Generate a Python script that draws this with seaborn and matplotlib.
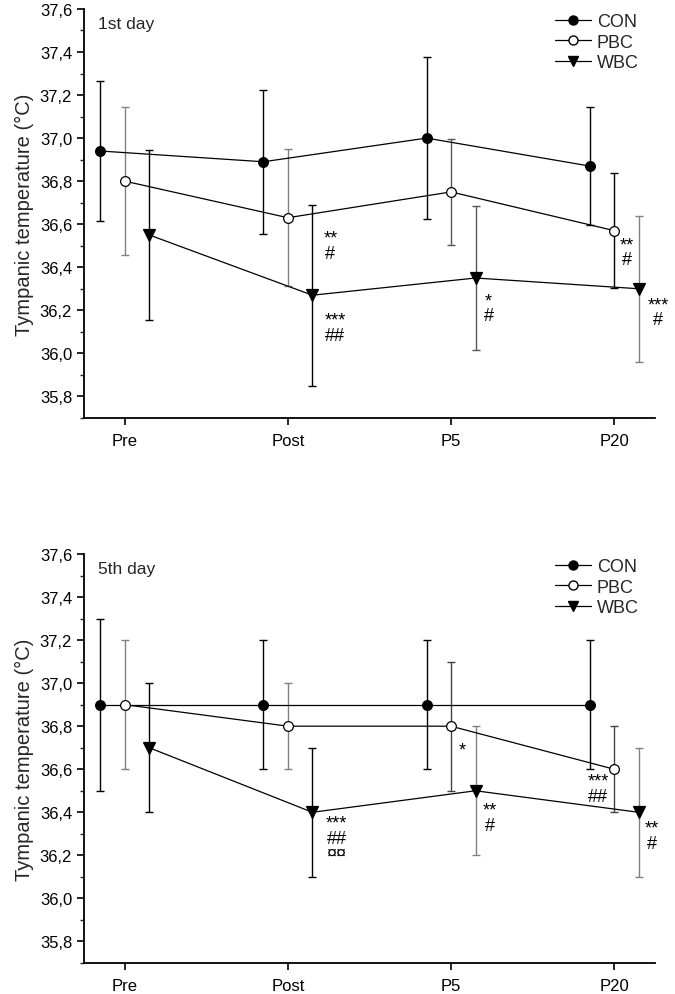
import numpy as np
import pandas as pd
import seaborn as sns
import matplotlib
matplotlib.use('Agg')
from matplotlib import pyplot as plt
from matplotlib.lines import Line2D

# values (mean, SD)
timepoints = ['Pre', 'Post', 'P5', 'P20']
groups = ['CON', 'PBC', 'WBC']

day1_con = [36.94, 36.89, 37.00, 36.87]
day1_con_sd = [0.325, 0.335, 0.377, 0.275]
day1_pbc = [36.80, 36.63, 36.75, 36.57]
day1_pbc_sd = [0.345, 0.318, 0.247, 0.267]
day1_wbc = [36.55, 36.27, 36.35, 36.30]
day1_wbc_sd = [0.395, 0.42, 0.335, 0.34]

day5_con = [36.9, 36.9, 36.9, 36.9]
day5_con_sd = [0.4, 0.3, 0.3, 0.3]
day5_pbc = [36.9, 36.8, 36.8, 36.6]
day5_pbc_sd = [0.3, 0.2, 0.3, 0.2]
day5_wbc = [36.7, 36.4, 36.5, 36.4]
day5_wbc_sd = [0.3, 0.3, 0.3, 0.3]

ytick_vals = [35.8, 36.0, 36.2, 36.4, 36.6, 36.8, 37.0, 37.2, 37.4, 37.6]
ytick_labels = ['35,8', '36,0', '36,2', '36,4', '36,6', '36,8', '37,0', '37,2', '37,4', '37,6']

# significance marks: (timepoint, group, text)
day1_marks = [('Post', 'PBC', '**\n#'), ('Post', 'WBC', '***\n##'),
              ('P5', 'WBC', '*\n#'), ('P20', 'PBC', '**\n#'), ('P20', 'WBC', '***\n#')]
day5_marks = [('Post', 'WBC', '***\n##\n¤¤'), ('P5', 'PBC', '*'), ('P5', 'WBC', '**\n#'),
              ('P20', 'PBC', '***\n##'), ('P20', 'WBC', '**\n#')]

# where each mark sits (x offset from the point, y in data units)
day1_mark_pos = [(0.26, 36.50), (0.14, 36.12), (0.08, 36.21), (0.08, 36.47), (0.12, 36.19)]
day5_mark_pos = [(0.15, 36.28), (0.07, 36.69), (0.09, 36.375), (-0.10, 36.51), (0.08, 36.29)]

offsets = {'CON': -0.15, 'PBC': 0.0, 'WBC': 0.15}
facecolors = {'CON': 'black', 'PBC': 'white', 'WBC': 'black'}
markers = {'CON': 'o', 'PBC': 'o', 'WBC': 'v'}
msizes = {'CON': 7, 'PBC': 7, 'WBC': 8}

# error bar colours differ a bit point to point in the original
day1_ecol = {'CON': ['black'] * 4,
             'PBC': ['#808080', '#808080', '#555555', 'black'],
             'WBC': ['black', 'black', '#555555', '#808080']}
day5_ecol = {'CON': ['black'] * 4,
             'PBC': ['#808080', '#808080', '#444444', '#444444'],
             'WBC': ['black', 'black', '#808080', '#808080']}


def make_df(con, con_sd, pbc, pbc_sd, wbc, wbc_sd):
    rows = []
    for g, m, s in [('CON', con, con_sd), ('PBC', pbc, pbc_sd), ('WBC', wbc, wbc_sd)]:
        for i, tp in enumerate(timepoints):
            rows.append({'group': g, 'time': tp, 'pos': i + offsets[g], 'temp': m[i], 'sd': s[i]})
    return pd.DataFrame(rows)


sns.set_style('ticks')
plt.rcParams['font.family'] = ['Liberation Sans', 'DejaVu Sans']
plt.rcParams['xtick.major.size'] = 5
plt.rcParams['ytick.major.size'] = 5
plt.rcParams['ytick.minor.size'] = 3
plt.rcParams['xtick.major.width'] = 1.2
plt.rcParams['ytick.major.width'] = 1.2
plt.rcParams['ytick.minor.width'] = 1.0

fig = plt.figure(figsize=(6.75, 9.95), dpi=100)
ax1 = fig.add_axes([0.1244, 0.579, 0.846, 0.411])
ax2 = fig.add_axes([0.1244, 0.0312, 0.846, 0.411])

panels = [
    (ax1, make_df(day1_con, day1_con_sd, day1_pbc, day1_pbc_sd, day1_wbc, day1_wbc_sd),
     day1_ecol, day1_marks, day1_mark_pos, '1st day'),
    (ax2, make_df(day5_con, day5_con_sd, day5_pbc, day5_pbc_sd, day5_wbc, day5_wbc_sd),
     day5_ecol, day5_marks, day5_mark_pos, '5th day'),
]

for ax, df, ecol, marks, mark_pos, title in panels:
    for g in groups:
        d = df[df.group == g]
        # error bars behind everything
        for k, (_, r) in enumerate(d.iterrows()):
            ax.errorbar(r['pos'], r['temp'], yerr=r['sd'], fmt='none', ecolor=ecol[g][k],
                        elinewidth=1.0, capsize=3, capthick=1.0, zorder=1)
        sns.lineplot(data=d, x='pos', y='temp', ax=ax, color='black', lw=0.9,
                     marker=markers[g], markersize=msizes[g], markerfacecolor=facecolors[g],
                     markeredgecolor='black', markeredgewidth=0.9, zorder=3, sort=False)

    for (tp, g, txt), (dx, y) in zip(marks, mark_pos):
        x = timepoints.index(tp) + offsets[g] + dx
        ax.text(x, y, txt, ha='center', va='center', fontsize=13, linespacing=0.85, color='black')

    ax.set_xlim(-0.25, 3.25)
    ax.set_ylim(35.7, 37.6)
    ax.set_xticks(range(len(timepoints)))
    ax.set_xticklabels(timepoints, fontsize=12)
    ax.set_yticks(ytick_vals)
    ax.set_yticklabels(ytick_labels, fontsize=12)
    ax.set_yticks(np.arange(35.7, 37.65, 0.1), minor=True)
    ax.set_xlabel('')
    ax.set_ylabel('Tympanic temperature (°C)', fontsize=14.5, labelpad=4)
    ax.tick_params(axis='both', colors='black', direction='out')
    ax.tick_params(axis='x', pad=6)
    for s in ['left', 'bottom']:
        ax.spines[s].set_linewidth(1.3)
        ax.spines[s].set_color('black')
    sns.despine(ax=ax)
    ax.text(0.025, 0.965, title, transform=ax.transAxes, fontsize=12.5, va='center', ha='left')

    handles = [Line2D([], [], color='black', lw=0.9, marker=markers[g], markersize=msizes[g] - 0.5,
                      markerfacecolor=facecolors[g], markeredgecolor='black') for g in groups]
    ax.legend(handles, groups, loc='upper right', bbox_to_anchor=(1.0, 1.03), frameon=False,
              fontsize=13, handlelength=2.0, handletextpad=0.3, labelspacing=0.2)

fig.savefig('out.png', dpi=100)
